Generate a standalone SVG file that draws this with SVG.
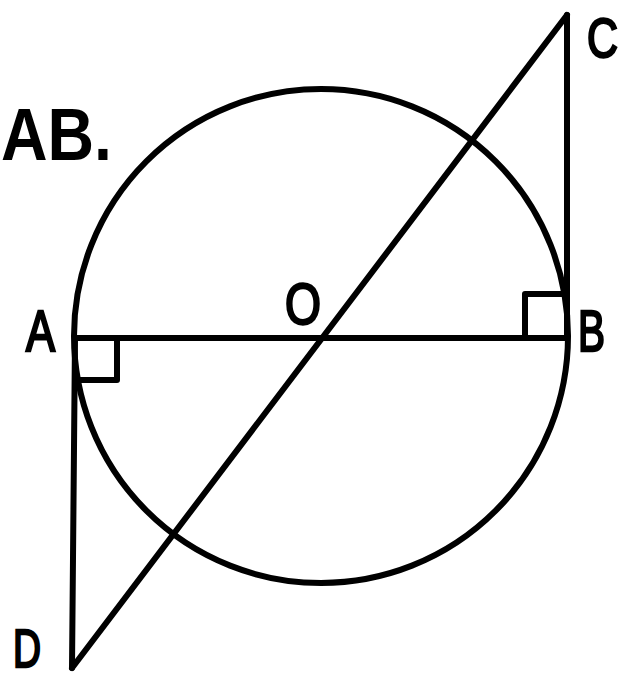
<svg xmlns="http://www.w3.org/2000/svg" width="627" height="680" viewBox="0 0 627 680">
<style>
.ln{stroke:#000;stroke-width:6;fill:none;stroke-linecap:round;stroke-linejoin:round}
.lb{font-family:"Liberation Sans",Arial,sans-serif;font-size:58px;fill:#000;stroke:#000;stroke-width:2.5}
</style>
<rect width="627" height="680" fill="#fff"/>
<text x="1" y="160" font-family="Liberation Sans,Arial,sans-serif" font-size="75" font-weight="bold" textLength="111" lengthAdjust="spacingAndGlyphs">AB.</text>
<g id="circle"><circle class="ln" cx="321" cy="336" r="247"/></g>
<g id="connectors">
<line class="ln" x1="75" y1="338" x2="567" y2="338"/>
<line class="ln" x1="75" y1="338" x2="72" y2="668"/>
<line class="ln" x1="72" y1="668" x2="567" y2="15"/>
<line class="ln" x1="567" y1="15" x2="567" y2="338"/>
<polyline class="ln" points="117,338 117,380 78,380"/>
<polyline class="ln" points="525,338 525,294 564,294"/>
</g>
<g id="A"><text class="lb" x="26" y="351" textLength="29" lengthAdjust="spacingAndGlyphs">A</text></g>
<g id="B"><text class="lb" x="578" y="351" textLength="27" lengthAdjust="spacingAndGlyphs">B</text></g>
<g id="C"><text class="lb" x="587" y="57" style="font-size:55px" textLength="31" lengthAdjust="spacingAndGlyphs">C</text></g>
<g id="D"><text class="lb" x="13" y="667" style="font-size:54px" textLength="28" lengthAdjust="spacingAndGlyphs">D</text></g>
<g id="O"><text class="lb" x="285" y="324" textLength="36" lengthAdjust="spacingAndGlyphs">O</text></g>
</svg>
